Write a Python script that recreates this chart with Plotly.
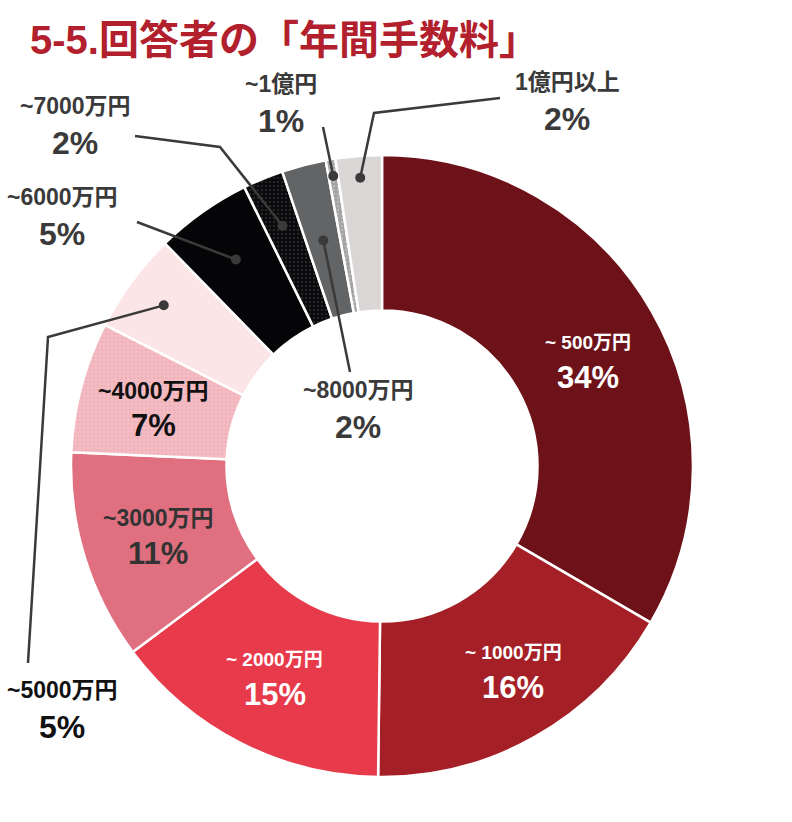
import math
import numpy as np
import plotly.graph_objects as go

# slice data, clockwise from 12 o'clock
labels = ['~ 500万円', '~ 1000万円', '~ 2000万円', '~3000万円', '~4000万円', '~5000万円',
          '~6000万円', '~7000万円', '~8000万円', '~1億円', '1億円以上']
values = [33.4, 16.8, 14.6, 10.9, 6.8, 5.2, 5.0, 2.1, 2.3, 0.5, 2.4]
pct_text = ['34%', '16%', '15%', '11%', '7%', '5%', '5%', '2%', '2%', '1%', '2%']

colors = ['#6E1219', '#A51F26', '#E73A4A', '#E07080', '#F5BBC3', '#FCE5E7',
          '#050507', '#0B0B0E', '#636466', '#A3A3A3', '#DAD6D6']
dot_fg = ['#6E1219', '#A51F26', '#E73A4A', '#E07080', '#EBACB6', '#FCE5E7',
          '#050507', '#2E2E32', '#636466', '#C4C4C4', '#DAD6D6']
dotted = [False, False, False, False, True, False, False, True, False, True, False]

W, H = 792, 822
CX, CY, R = 382, 466, 311
TXT = '#3A3A3A'
FONT = 'Liberation Sans, Noto Sans CJK JP, sans-serif'


def px(x, y):
    return x / W, 1 - y / H


def mid_point(i, r):
    cum = np.cumsum(values)
    theta = math.radians((cum[i] - values[i] / 2) / cum[-1] * 360)
    return CX + r * math.sin(theta), CY - r * math.cos(theta)


fig = go.Figure()
fig.add_trace(go.Pie(
    labels=labels, values=values, sort=False, direction='clockwise', rotation=0,
    hole=0.5, textinfo='none', hoverinfo='label+percent',
    marker=dict(colors=colors, line=dict(color='white', width=2.5),
                pattern=dict(shape=['.' if d else '' for d in dotted],
                             bgcolor=colors, fgcolor=dot_fg,
                             size=4, solidity=0.2)),
    domain=dict(x=[(CX - R) / W, (CX + R) / W], y=[1 - (CY + R) / H, 1 - (CY - R) / H]),
    showlegend=False,
))

annotations = []


def add_label(name, pct, x, y, color, s1, s2, gap):
    ax, ay = px(x, y)
    annotations.append(dict(text=name, x=ax, y=ay, xref='paper', yref='paper', showarrow=False,
                            xanchor='center', yanchor='middle',
                            font=dict(family=FONT, size=s1, color=color, weight='bold')))
    bx, by = px(x, y + gap)
    annotations.append(dict(text=pct, x=bx, y=by, xref='paper', yref='paper', showarrow=False,
                            xanchor='center', yanchor='middle',
                            font=dict(family=FONT, size=s2, color=color, weight='bold')))


# labels inside the ring: index -> (colour, name size, pct size, nudge x, nudge y)
inside = {0: ('white', 19, 31, 1, -6), 1: ('white', 19, 31, 15, -19),
          2: ('white', 19, 31, 0, -17), 3: ('#333333', 23, 31, 2, -17),
          4: ('#111111', 23, 31, 0, -15)}
for i, (col, s1, s2, nx, ny) in inside.items():
    x, y = mid_point(i, 236)
    add_label(labels[i], pct_text[i], x + nx, y + ny, col, s1, s2, 35)

# labels outside with leader lines: index -> (dot radius, name pos, path to text)
outside = {
    10: (289, (567, 82), [(374, 113), (500, 98)]),
    9: (294, (281, 84), [(323, 127)]),
    8: (233, (358, 390), [(350, 372)]),
    7: (260, (75, 106), [(220, 147), (135, 136)]),
    6: (253, (62, 197), [(137, 222)]),
    5: (271, (62, 690), [(48, 337), (28, 663)]),
}
shapes = []
for i, (rd, (lx, ly), pts) in outside.items():
    dx, dy = mid_point(i, rd)
    path = 'M {} {}'.format(*px(dx, dy))
    for (x, y) in pts:
        path += ' L {} {}'.format(*px(x, y))
    shapes.append(dict(type='path', path=path, xref='paper', yref='paper',
                       line=dict(color=TXT, width=2.5)))
    r0 = 5
    x0, y0 = px(dx - r0, dy + r0)
    x1, y1 = px(dx + r0, dy - r0)
    shapes.append(dict(type='circle', xref='paper', yref='paper', x0=x0, y0=y0, x1=x1, y1=y1,
                       fillcolor=TXT, line=dict(color=TXT, width=0)))
    col = '#111111' if i == 5 else TXT
    add_label(labels[i], pct_text[i], lx, ly, col, 23, 32, 37)

# title
tx, ty = px(28, 40)
annotations.append(dict(text='5-5.回答者の「年間手数料」', x=tx, y=ty, xref='paper', yref='paper',
                        xanchor='left', yanchor='middle', showarrow=False,
                        font=dict(family=FONT, size=40, color='#B1202C', weight='bold')))

fig.update_layout(
    width=W, height=H,
    margin=dict(l=0, r=0, t=0, b=0),
    paper_bgcolor='white', plot_bgcolor='white',
    annotations=annotations, shapes=shapes,
)

fig.write_html('out.html', config={'displayModeBar': False},
               post_script="document.body.style.margin='0';")
